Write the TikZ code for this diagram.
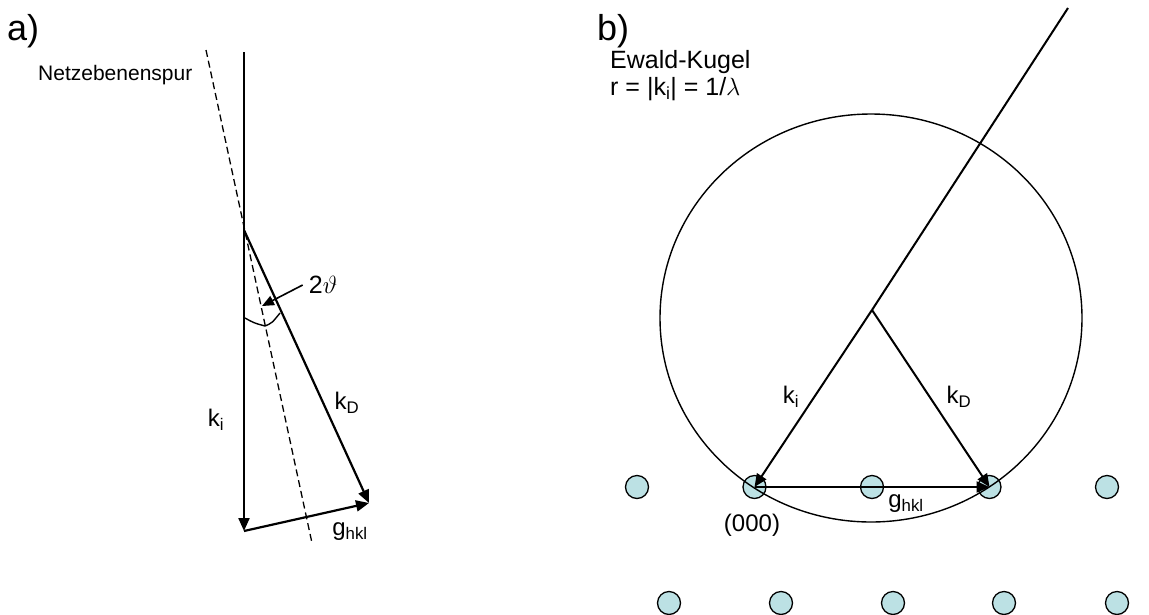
\documentclass[tikz,border=0pt]{standalone}
\usepackage{fontspec}
\setmainfont{Liberation Sans}
\usetikzlibrary{arrows.meta}
\definecolor{dotfill}{RGB}{188,225,228}
\begin{document}
\begin{tikzpicture}[x=1pt,y=-1pt,
  vec/.style={line width=2.2pt,-{Triangle[length=13pt,width=11pt]}},
  plain/.style={line width=2pt},
  thinline/.style={line width=1.4pt},
  dashline/.style={line width=1.3pt,dash pattern=on 7pt off 4pt},
  lbl/.style={inner sep=0pt,font=\fontsize{24}{28}\selectfont},
  biglbl/.style={inner sep=0pt,font=\fontsize{36}{42}\selectfont,anchor=base west},
  dot/.style={circle,draw=black,line width=1.3pt,fill=dotfill,minimum size=23pt,inner sep=0pt}
]
\useasboundingbox (0,0) rectangle (1149,614);

% ---------- a) ----------
\node[biglbl] (la) at (7,40) {a)};
\node[lbl,anchor=base west,font=\fontsize{21}{25}\selectfont] (netz) at (38,80) {Netzebenenspur};

\coordinate (Atop) at (244,52);
\coordinate (V) at (244,230);
\coordinate (B) at (244,531);
\coordinate (C) at (369,503);
\coordinate (Dtop) at (206,50);
\coordinate (Dbot) at (312,543);

\draw[dashline] (Dtop) -- (Dbot);
\draw[vec] (Atop) -- (B);
\draw[vec] (V) -- (C);
\draw[vec] (B) -- (C);

\coordinate (arcA) at (245,318);
\coordinate (arcM) at (265,326);
\coordinate (arcB) at (280,313);
\draw[thinline] (arcA) .. controls (254,323) .. (arcM) .. controls (272,323) .. (arcB);

\node[lbl,font=\fontsize{25}{30}\selectfont] (theta) at (323,285) {2$\vartheta$};
\coordinate (thtip) at (262,306);
\draw[line width=1.6pt,-{Triangle[length=12pt,width=10pt]}] (theta.west) ++(-6,0) -- (thtip);

\node[lbl] (kia) at (216,420) {k\textsubscript{i}};
\node[lbl] (kDa) at (347,403) {k\textsubscript{D}};
\node[lbl] (ga) at (350,532) {g\textsubscript{hkl}};

% ---------- b) ----------
\node[biglbl] (lb) at (597,40) {b)};
\node[lbl,anchor=base west,font=\fontsize{25}{30}\selectfont] (ew1) at (610,68) {Ewald-Kugel};
\node[lbl,anchor=base west,font=\fontsize{25}{30}\selectfont] (ew2) at (610,95) {r = |k\textsubscript{i}| = 1/$\lambda$};

\foreach \x [count=\i] in {637,754.5,872,989.5,1107}
  \node[dot] (p\i) at (\x,487) {};
\foreach \x [count=\i] in {669,781,893,1004,1117}
  \node[dot] (q\i) at (\x,603) {};

\coordinate (O) at (872,310);
\coordinate (E) at (871,318);
\coordinate (Top) at (1068,8);
\draw[thinline] (E) ellipse[x radius=211, y radius=204];
\draw[plain] (O) -- (Top);
\draw[vec,line width=2pt] (O) -- (p2.center);
\draw[vec,line width=2pt] (O) -- (p4.center);
\draw[vec,line width=2pt] (p2.center) -- (p4.center);

\node[lbl] (kib) at (791,397) {k\textsubscript{i}};
\node[lbl] (kDb) at (959,397) {k\textsubscript{D}};
\node[lbl] (gb) at (906,504) {g\textsubscript{hkl}};
\node[lbl] (zero) at (752,525) {(000)};
\end{tikzpicture}
\end{document}
